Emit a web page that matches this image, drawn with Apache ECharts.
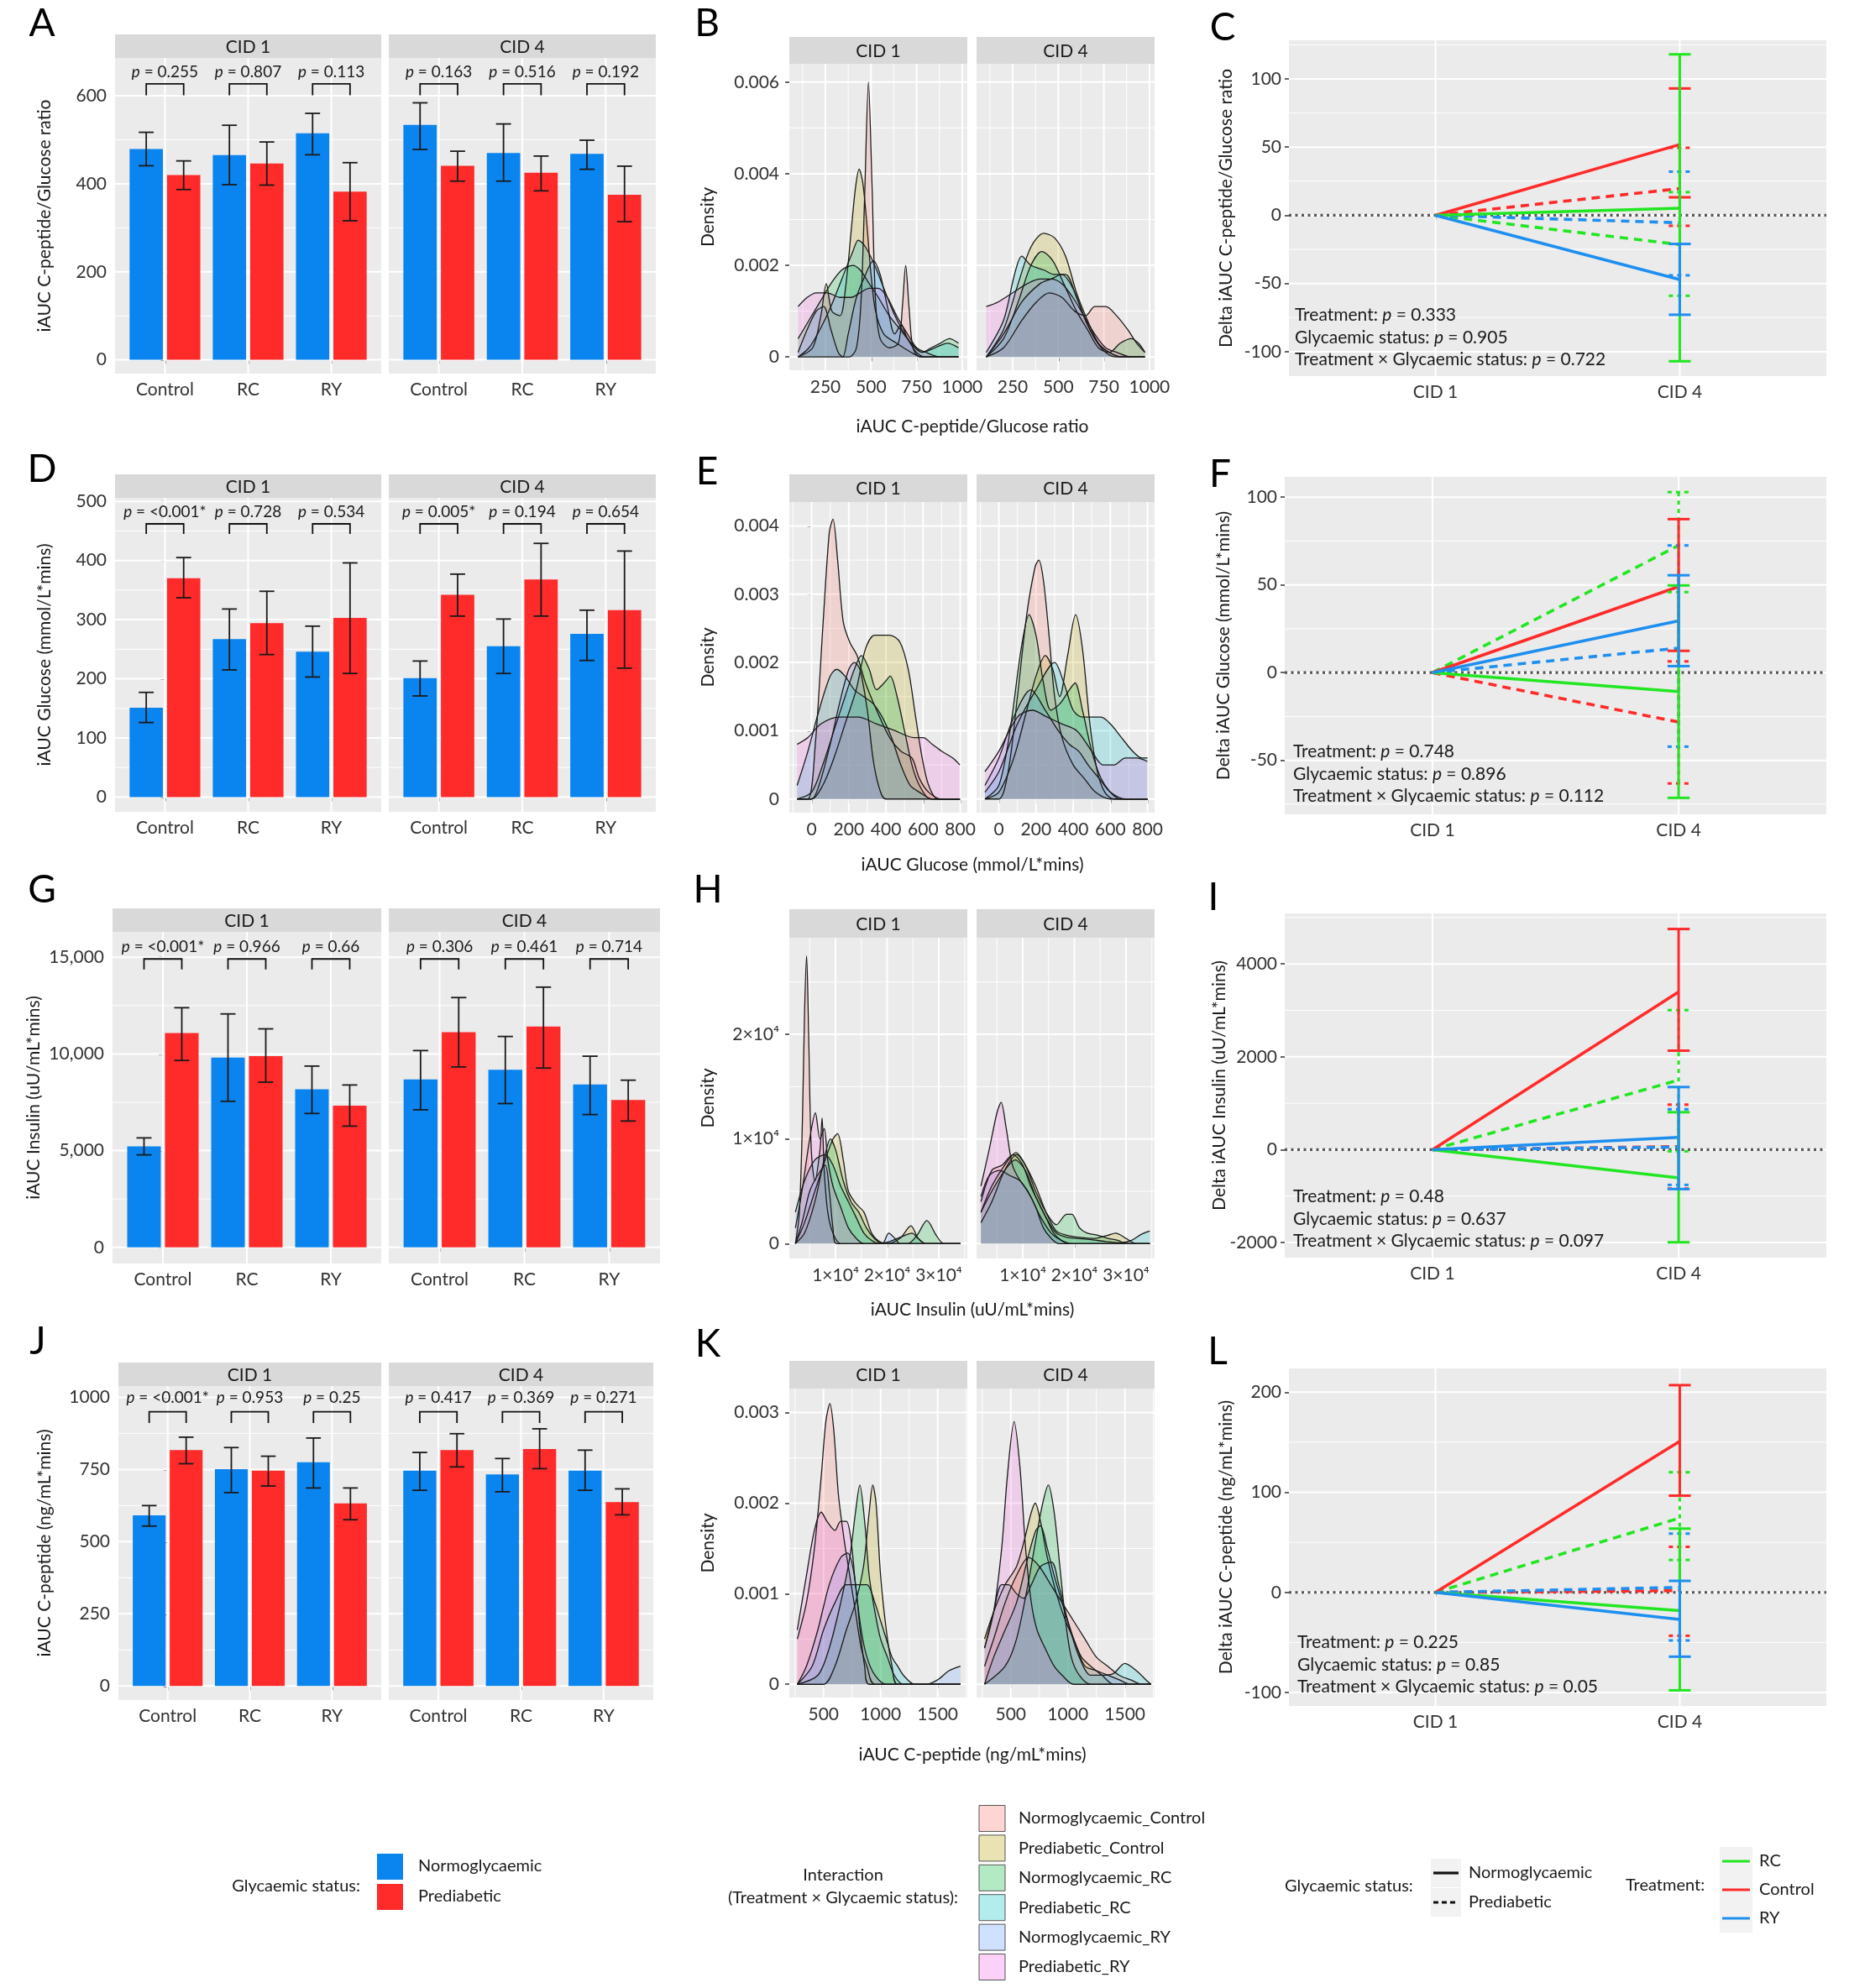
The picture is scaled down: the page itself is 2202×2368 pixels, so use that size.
<!DOCTYPE html>
<html>
<head>
<meta charset="utf-8">
<title>iAUC figure</title>
<script src="https://cdn.jsdelivr.net/npm/echarts@6.0.0/dist/echarts.min.js"></script>
<style>
html,body{margin:0;padding:0;background:#ffffff;}
#chart{width:2202px;height:2368px;}
</style>
</head>
<body>
<div id="chart"></div>
<script>
// ======================= DATA =======================
const treatments = ['Control', 'RC', 'RY'];
const facets = ['CID 1', 'CID 4'];
const statusNames = ['Normoglycaemic', 'Prediabetic'];
const interactionNames = ['Normoglycaemic_Control','Prediabetic_Control','Normoglycaemic_RC','Prediabetic_RC','Normoglycaemic_RY','Prediabetic_RY'];

// ---- Bar panels: [mean, lower, upper] for Control, RC, RY ----
const A_CID1_Normo = [[479,441,517],[465,398,533],[515,466,560]];
const A_CID1_Pred  = [[420,387,452],[446,397,495],[382,316,448]];
const A_CID4_Normo = [[534,478,584],[470,406,536],[468,433,499]];
const A_CID4_Pred  = [[441,406,474],[425,384,463],[375,314,440]];
const A_pCID1 = ['0.255','0.807','0.113'];
const A_pCID4 = ['0.163','0.516','0.192'];

const D_CID1_Normo = [[151,126,177],[267,215,318],[246,203,289]];
const D_CID1_Pred  = [[370,337,405],[294,241,348],[303,209,396]];
const D_CID4_Normo = [[201,171,230],[255,209,301],[276,231,316]];
const D_CID4_Pred  = [[342,306,377],[368,306,429],[316,218,416]];
const D_pCID1 = ['<0.001*','0.728','0.534'];
const D_pCID4 = ['0.005*','0.194','0.654'];

const G_CID1_Normo = [[5223,4781,5660],[9811,7552,12070],[8178,6924,9373]];
const G_CID1_Pred  = [[11079,9665,12391],[9884,8542,11298],[7332,6268,8396]];
const G_CID4_Normo = [[8688,7114,10175],[9184,7435,10904],[8425,6866,9884]];
const G_CID4_Pred  = [[11123,9329,12916],[11414,9271,13455],[7624,6531,8644]];
const G_pCID1 = ['<0.001*','0.966','0.66'];
const G_pCID4 = ['0.306','0.461','0.714'];

const J_CID1_Normo = [[591,554,625],[751,670,826],[775,686,859]];
const J_CID1_Pred  = [[817,770,862],[746,693,796],[633,576,686]];
const J_CID4_Normo = [[746,678,809],[733,673,788],[746,678,817]];
const J_CID4_Pred  = [[817,759,874],[821,753,891],[637,593,683]];
const J_pCID1 = ['<0.001*','0.953','0.25'];
const J_pCID4 = ['0.417','0.369','0.271'];

// ---- Delta panels: CID4 change [mean, lower, upper] for Control, RC, RY ----
const C_Normo = [[51.9,13.2,93],[5.2,-107,118],[-47.1,-72.9,-21]];
const C_Pred  = [[19.6,-7.7,49.5],[-21.5,-59,17],[-5.5,-44,32]];
const C_pvals = ['0.333','0.905','0.722'];
const F_Normo = [[49,12.4,87.5],[-10.8,-71.4,49.7],[29.5,3.7,55.5]];
const F_Pred  = [[-28.2,-63.2,6.4],[72.5,45.9,102.9],[14,-42.2,72.5]];
const F_pvals = ['0.748','0.896','0.112'];
const I_Normo = [[3398,2133,4753],[-608,-1994,807],[265,-849,1349]];
const I_Pred  = [[66,-838,970],[1500,-36,3006],[54,-759,870]];
const I_pvals = ['0.48','0.637','0.097'];
const L_Normo = [[151,96.6,207],[-18.2,-97.8,63.7],[-27.1,-64.2,11.5]];
const L_Pred  = [[1.7,-43.3,45.5],[74.3,32.4,120],[5,-48,58.7]];
const L_pvals = ['0.225','0.85','0.05'];

// ---- Tick values ----
const A_yTicks = [0,200,400,600];
const D_yTicks = [0,100,200,300,400,500];
const G_yTicks = [0,5000,10000,15000];
const J_yTicks = [0,250,500,750,1000];
const B_xTicks = [250,500,750,1000];
const B_yTicks = [0,0.002,0.004,0.006];
const E_xTicks = [0,200,400,600,800];
const E_yTicks = [0,0.001,0.002,0.003,0.004];
const H_xTicks = [10000,20000,30000];
const H_xTickLabels = ['1×10⁴','2×10⁴','3×10⁴'];
const H_yTicks = [0,0.0001,0.0002];
const H_yTickLabels = ['0','1×10⁴','2×10⁴'];
const K_xTicks = [500,1000,1500];
const K_yTicks = [0,0.001,0.002,0.003];
const C_yTicks = [-100,-50,0,50,100];
const F_yTicks = [-50,0,50,100];
const I_yTicks = [-2000,0,2000,4000];
const L_yTicks = [-100,0,100,200];

// ---- Density curves [x, density] ----
// B: iAUC C-peptide/Glucose ratio
const B1_NC  = [[100,0],[380,0],[420,0.0002],[445,0.0012],[465,0.0035],[486,0.006],[505,0.0038],[525,0.0012],[550,0.0004],[600,0.0002],[650,0.0003],[672,0.0011],[690,0.002],[708,0.0011],[730,0.0002],[770,0],[980,0]];
const B1_PC  = [[100,0],[180,0.0002],[225,0.0009],[255,0.0016],[285,0.001],[330,0.0009],[360,0.0015],[390,0.0027],[415,0.0037],[435,0.0041],[455,0.0038],[475,0.003],[500,0.0018],[525,0.001],[570,0.0005],[640,0.0003],[720,0.0001],[780,0],[980,0]];
const B1_NRC = [[100,0.0004],[160,0.0008],[220,0.0012],[280,0.0016],[340,0.0019],[400,0.002],[440,0.0019],[490,0.0016],[540,0.0013],[600,0.0009],[660,0.0006],[720,0.0003],[780,0.0001],[830,0.0002],[880,0.0003],[930,0.0004],[980,0.0003]];
const B1_PRC = [[100,0],[160,0.0002],[220,0.0006],[280,0.0011],[340,0.0017],[400,0.0023],[430,0.00255],[470,0.0024],[520,0.002],[570,0.0015],[620,0.001],[670,0.0006],[720,0.0003],[780,0.0001],[850,0.0002],[920,0.0003],[980,0.0002]];
const B1_NRY = [[100,0.0001],[150,0.0006],[200,0.001],[240,0.0011],[280,0.0006],[320,0.0001],[345,0],[375,0.0005],[420,0.0013],[470,0.0018],[512,0.0021],[550,0.0018],[590,0.0011],[630,0.0005],[665,0.0007],[700,0.0004],[750,0.0001],[800,0],[980,0]];
const B1_PRY = [[100,0.0011],[150,0.0013],[200,0.0014],[260,0.0014],[330,0.0013],[390,0.0013],[440,0.0014],[490,0.0015],[540,0.0015],[590,0.0013],[640,0.0009],[700,0.0005],[750,0.0002],[800,0.0001],[880,0],[980,0]];
const B4_NC  = [[105,0],[200,0.0002],[300,0.0008],[380,0.0012],[450,0.0014],[520,0.0013],[590,0.001],[650,0.0009],[700,0.0011],[760,0.0011],[820,0.0009],[880,0.0006],[930,0.0003],[975,0.0001]];
const B4_PC  = [[105,0],[200,0.0006],[280,0.0016],[350,0.0024],[420,0.0027],[480,0.0026],[540,0.0022],[600,0.0014],[660,0.0008],[720,0.0003],[780,0.0001],[850,0],[975,0]];
const B4_NRC = [[105,0],[200,0.0004],[280,0.0012],[350,0.002],[410,0.0023],[470,0.0021],[530,0.0016],[600,0.001],[660,0.0006],[720,0.0002],[780,0.0001],[840,0.0003],[900,0.0004],[940,0.0003],[975,0.0001]];
const B4_PRC = [[105,0.0001],[200,0.0008],[260,0.0018],[300,0.0022],[350,0.002],[420,0.0019],[480,0.0018],[540,0.0018],[600,0.0013],[660,0.0007],[720,0.0003],[780,0.0001],[850,0],[975,0]];
const B4_NRY = [[105,0],[200,0.0005],[300,0.0012],[400,0.0016],[460,0.0017],[520,0.0018],[580,0.0015],[640,0.0009],[700,0.0004],[760,0.0001],[820,0],[975,0]];
const B4_PRY = [[105,0.0011],[170,0.0012],[250,0.0014],[330,0.0016],[400,0.0017],[460,0.0017],[520,0.0016],[580,0.0013],[640,0.0009],[700,0.0005],[760,0.0002],[820,0.0001],[900,0],[975,0]];
// E: iAUC Glucose
const E1_NC  = [[-78,0],[-20,0],[20,0.0008],[60,0.0025],[95,0.0039],[115,0.0041],[140,0.0035],[170,0.0026],[205,0.0023],[245,0.0021],[290,0.0017],[350,0.0013],[420,0.0009],[480,0.0007],[540,0.0006],[580,0.0003],[630,0.0001],[700,0],[798,0]];
const E1_PC  = [[-78,0],[0,0],[60,0.0002],[120,0.0006],[180,0.0011],[240,0.0016],[290,0.0022],[340,0.0024],[420,0.0024],[475,0.0023],[520,0.0019],[560,0.0012],[595,0.0006],[630,0.0002],[680,0],[798,0]];
const E1_NRC = [[-78,0],[0,0.0001],[60,0.0005],[120,0.001],[180,0.0015],[230,0.0019],[268,0.0021],[310,0.0019],[350,0.0016],[390,0.0017],[423,0.0018],[460,0.0015],[500,0.001],[540,0.0005],[580,0.0002],[640,0],[798,0]];
const E1_PRC = [[-78,0.0002],[-20,0.0007],[40,0.0013],[100,0.0018],[135,0.0019],[180,0.0018],[230,0.0016],[280,0.0015],[330,0.0014],[380,0.0012],[430,0.0009],[480,0.0005],[530,0.0002],[580,0.0001],[650,0],[798,0]];
const E1_NRY = [[-78,0],[0,0],[40,0.0002],[100,0.0008],[150,0.0014],[200,0.0019],[230,0.002],[260,0.0019],[300,0.0013],[330,0.0006],[360,0.0002],[400,0],[798,0]];
const E1_PRY = [[-78,0.0008],[-20,0.0009],[50,0.0011],[150,0.0012],[250,0.0012],[350,0.0011],[450,0.001],[550,0.0009],[600,0.0009],[650,0.0008],[700,0.0007],[760,0.0006],[798,0.0005]];
const E4_NC  = [[-75,0],[0,0],[50,0.0004],[100,0.0015],[150,0.0027],[195,0.0034],[215,0.0035],[240,0.0032],[270,0.0024],[300,0.0015],[340,0.0009],[400,0.0005],[460,0.0003],[520,0.0001],[600,0],[800,0]];
const E4_PC  = [[-75,0],[0,0.0001],[80,0.0006],[150,0.0013],[200,0.0018],[250,0.0021],[290,0.0019],[327,0.0015],[370,0.0021],[413,0.0027],[450,0.0022],[490,0.0011],[530,0.0004],[570,0.0001],[620,0],[800,0]];
const E4_NRC = [[-75,0],[0,0.0002],[60,0.001],[120,0.0022],[163,0.0027],[200,0.0024],[240,0.0017],[280,0.0013],[330,0.0014],[380,0.0016],[410,0.0017],[450,0.0013],[500,0.0007],[550,0.0003],[600,0.0001],[650,0],[800,0]];
const E4_PRC = [[-75,0.0001],[0,0.0004],[100,0.0011],[200,0.0016],[300,0.002],[350,0.0017],[400,0.0013],[450,0.0012],[500,0.0012],[550,0.0012],[600,0.0011],[660,0.0009],[720,0.0007],[770,0.0006],[800,0.0006]];
const E4_NRY = [[-75,0.0002],[0,0.0006],[80,0.0012],[172,0.0016],[250,0.0013],[320,0.001],[380,0.0008],[430,0.0007],[480,0.0005],[540,0.0003],[600,0.0001],[680,0],[800,0]];
const E4_PRY = [[-75,0.0004],[0,0.0007],[100,0.0012],[180,0.0013],[260,0.0012],[340,0.0011],[420,0.001],[500,0.0007],[560,0.0005],[620,0.0005],[680,0.0006],[740,0.0006],[800,0.00055]];
// H: iAUC Insulin
const H1_NC  = [[2230,0],[3000,0.3e-4],[3600,1.2e-4],[4000,2.2e-4],[4400,2.75e-4],[4800,2.0e-4],[5300,0.9e-4],[6000,0.6e-4],[7000,0.9e-4],[7400,1.2e-4],[7800,0.7e-4],[8500,0.3e-4],[9500,0.1e-4],[11000,0],[34200,0]];
const H1_PC  = [[2230,0],[4000,0.2e-4],[6000,0.5e-4],[8000,0.8e-4],[9500,1.0e-4],[10400,1.05e-4],[11500,0.8e-4],[12500,0.5e-4],[14000,0.38e-4],[15500,0.3e-4],[17000,0.1e-4],[18500,0.02e-4],[20000,0],[22500,0.05e-4],[24600,0.17e-4],[26000,0.05e-4],[27500,0],[34200,0]];
const H1_NRC = [[2230,0],[4000,0.1e-4],[6000,0.4e-4],[8000,0.85e-4],[9000,1.0e-4],[10000,0.9e-4],[11500,0.6e-4],[13000,0.4e-4],[14500,0.3e-4],[16000,0.15e-4],[17500,0.05e-4],[19000,0],[24000,0],[25800,0.08e-4],[27700,0.22e-4],[29500,0.08e-4],[31000,0],[34200,0]];
const H1_PRC = [[2230,0.3e-4],[4000,0.6e-4],[6000,0.8e-4],[8000,0.85e-4],[9500,0.75e-4],[11000,0.55e-4],[12500,0.4e-4],[14000,0.25e-4],[15500,0.1e-4],[17000,0.03e-4],[18500,0],[20500,0.02e-4],[22000,0.05e-4],[23500,0.08e-4],[24800,0.1e-4],[26000,0.05e-4],[27500,0],[34200,0]];
const H1_NRY = [[2230,0],[3500,0.2e-4],[5000,0.5e-4],[6500,0.65e-4],[8000,0.75e-4],[8800,0.5e-4],[9500,0.15e-4],[10200,0],[19000,0],[20300,0.1e-4],[21500,0.05e-4],[22500,0],[34200,0]];
const H1_PRY = [[2230,0.15e-4],[3500,0.5e-4],[5000,1.0e-4],[6100,1.25e-4],[7000,1.0e-4],[7800,1.1e-4],[8500,0.8e-4],[9500,0.55e-4],[11000,0.35e-4],[12500,0.15e-4],[14000,0.05e-4],[15500,0],[34200,0]];
const H4_NC  = [[1900,0.4e-4],[4000,0.7e-4],[6000,0.75e-4],[8100,0.85e-4],[10000,0.75e-4],[11500,0.55e-4],[13000,0.4e-4],[14500,0.25e-4],[16000,0.1e-4],[17500,0.03e-4],[19000,0],[34600,0]];
const H4_PC  = [[1900,0.3e-4],[4000,0.55e-4],[6500,0.75e-4],[8700,0.87e-4],[10500,0.75e-4],[12500,0.55e-4],[14500,0.3e-4],[16500,0.12e-4],[18500,0.08e-4],[21000,0.06e-4],[24000,0.05e-4],[26500,0.08e-4],[28000,0.1e-4],[30000,0.05e-4],[32000,0],[34600,0]];
const H4_NRC = [[1900,0.2e-4],[4000,0.4e-4],[6500,0.7e-4],[8800,0.85e-4],[10500,0.75e-4],[12500,0.5e-4],[14500,0.3e-4],[16500,0.18e-4],[18500,0.28e-4],[19500,0.28e-4],[21000,0.15e-4],[22500,0.1e-4],[24500,0.08e-4],[26500,0.05e-4],[28500,0.03e-4],[30000,0],[34600,0]];
const H4_PRC = [[1900,0.3e-4],[4000,0.5e-4],[6500,0.7e-4],[8500,0.8e-4],[10500,0.7e-4],[12500,0.45e-4],[14500,0.25e-4],[16500,0.1e-4],[18500,0.06e-4],[20500,0.05e-4],[23000,0.04e-4],[26000,0.02e-4],[29000,0.01e-4],[31000,0.03e-4],[33000,0.09e-4],[34600,0.12e-4]];
const H4_NRY = [[1900,0.45e-4],[3500,0.65e-4],[5500,0.7e-4],[7500,0.65e-4],[9500,0.6e-4],[11500,0.45e-4],[13500,0.25e-4],[15500,0.1e-4],[17500,0.03e-4],[19500,0],[34600,0]];
const H4_PRY = [[1900,0.55e-4],[3500,0.9e-4],[5000,1.25e-4],[5800,1.35e-4],[6800,1.1e-4],[8000,0.75e-4],[9500,0.6e-4],[11000,0.5e-4],[12500,0.35e-4],[14000,0.15e-4],[15500,0.05e-4],[17000,0],[34600,0]];
// K: iAUC C-peptide
const K1_NC  = [[270,0.0005],[350,0.0009],[420,0.0015],[480,0.0023],[520,0.0029],[556,0.0031],[590,0.0028],[630,0.0021],[680,0.0016],[730,0.0012],[780,0.0008],[830,0.0004],[880,0.0002],[950,0],[1700,0]];
const K1_PC  = [[270,0],[500,0],[600,0.0002],[700,0.0006],[780,0.0009],[850,0.0013],[900,0.0019],[931,0.0022],[960,0.002],[1000,0.0012],[1050,0.0006],[1100,0.0002],[1150,0],[1700,0]];
const K1_NRC = [[270,0],[450,0.0001],[550,0.0004],[650,0.0009],[730,0.0014],[780,0.0019],[818,0.0022],[860,0.0018],[900,0.0012],[950,0.0008],[1000,0.0005],[1060,0.0003],[1120,0.0001],[1200,0],[1700,0]];
const K1_PRC = [[270,0],[400,0.0002],[500,0.0006],[600,0.0009],[700,0.0011],[800,0.0011],[880,0.0011],[950,0.0009],[1000,0.0007],[1050,0.0005],[1100,0.0003],[1150,0.0002],[1200,0.0001],[1300,0],[1700,0]];
const K1_NRY = [[270,0],[350,0.0002],[450,0.0006],[550,0.0011],[650,0.0014],[711,0.00145],[770,0.0012],[820,0.0006],[860,0.0002],[900,0],[1400,0],[1500,0.00005],[1600,0.00015],[1700,0.0002]];
const K1_PRY = [[270,0.0006],[350,0.0012],[420,0.0017],[480,0.0019],[530,0.0018],[600,0.0017],[650,0.0018],[700,0.0018],[740,0.0016],[780,0.0011],[830,0.0006],[880,0.0003],[950,0.0001],[1050,0],[1700,0]];
const K4_NC  = [[270,0.0002],[350,0.0005],[450,0.0009],[550,0.0012],[657,0.0014],[750,0.0013],[850,0.0011],[950,0.0009],[1050,0.0007],[1150,0.0005],[1250,0.0003],[1350,0.0002],[1450,0.0001],[1550,0.00005],[1650,0],[1730,0]];
const K4_PC  = [[270,0.0005],[350,0.0008],[450,0.0011],[550,0.0013],[620,0.0016],[680,0.0019],[714,0.002],[760,0.0018],[820,0.0014],[900,0.001],[980,0.0007],[1050,0.0005],[1120,0.0003],[1200,0.0002],[1300,0.0001],[1400,0],[1730,0]];
const K4_NRC = [[270,0],[450,0.0002],[550,0.0005],[650,0.0011],[720,0.0016],[780,0.002],[829,0.0022],[880,0.0019],[930,0.0013],[980,0.0007],[1030,0.0003],[1100,0.0001],[1200,0],[1730,0]];
const K4_PRC = [[270,0],[350,0.0003],[450,0.0006],[550,0.0009],[650,0.0014],[720,0.0017],[760,0.00175],[820,0.0015],[880,0.0012],[950,0.0009],[1020,0.0006],[1100,0.0003],[1200,0.0001],[1300,0.0001],[1400,0.00012],[1500,0.00023],[1600,0.00015],[1700,0.00003],[1730,0]];
const K4_NRY = [[270,0.0004],[350,0.0008],[420,0.0011],[480,0.0011],[550,0.001],[614,0.00095],[680,0.0011],[760,0.0013],[857,0.00135],[920,0.0011],[1000,0.0007],[1080,0.0004],[1150,0.0002],[1250,0.00015],[1350,0.0001],[1450,0.00005],[1550,0],[1730,0]];
const K4_PRY = [[270,0.0004],[350,0.0008],[420,0.0015],[470,0.0023],[529,0.0029],[580,0.0024],[630,0.0015],[680,0.0009],[730,0.0006],[800,0.0004],[880,0.0002],[950,0.0001],[1050,0],[1730,0]];

// ======================= STYLE / LAYOUT =======================
const FONT = 'Lato, "Open Sans", "Liberation Sans", sans-serif';
const BAR_BLUE = '#0A84EE', BAR_RED = '#FF2A2A';
const TR_COLORS = ['#FF2A2A', '#22E622', '#1E8FEF']; // Control, RC, RY
const DENS_COLORS = ['#F8766D','#B79F00','#00BA38','#00BFC4','#619CFF','#F564E3'];
const PANEL_BG = '#EBEBEB', STRIP_BG = '#D9D9D9', TXT = '#1A1A1A', TICK_TXT = '#333333';

function rgba(hex, a) {
  const n = parseInt(hex.slice(1), 16);
  return 'rgba(' + ((n >> 16) & 255) + ',' + ((n >> 8) & 255) + ',' + (n & 255) + ',' + a + ')';
}
function blendWhite(hex, a) {
  const n = parseInt(hex.slice(1), 16);
  const c = [(n >> 16) & 255, (n >> 8) & 255, n & 255].map(v => Math.round(255 - a * (255 - v)));
  return 'rgb(' + c.join(',') + ')';
}
function minors(t, lo, hi) {
  const s = t[1] - t[0], out = [];
  let k = -Math.ceil((t[0] - lo) / s) - 1;
  for (;; k++) { const v = t[0] + (k + 0.5) * s; if (v > hi) break; if (v >= lo) out.push(v); }
  return out;
}
function labelFrom(ticks, labels) {
  return v => { for (let i = 0; i < ticks.length; i++) { if (Math.abs(ticks[i] - v) <= Math.abs(ticks[i]) * 1e-6 + 1e-12) return labels[i]; } return ''; };
}

const grids = [], xAxes = [], yAxes = [], series = [], graphics = [];

function text(x, y, str, o) {
  o = o || {};
  const size = o.size || 21;
  const st = {
    text: str, fill: o.color || TXT,
    font: (o.italic ? 'italic ' : '') + size + 'px ' + FONT,
    fontSize: size, fontFamily: FONT,
    align: o.align || 'center', verticalAlign: o.va || 'middle',
    textAlign: o.align || 'center', textVerticalAlign: o.va || 'middle'
  };
  if (o.rich) st.rich = o.rich;
  graphics.push({ type: 'text', x: x, y: y, rotation: o.rot || 0, silent: true, z: 100, style: st });
}
function rect(x, y, w, h, fill, stroke) {
  graphics.push({ type: 'rect', silent: true, z: 90, shape: { x: x, y: y, width: w, height: h },
    style: { fill: fill, stroke: stroke || null, lineWidth: stroke ? 1 : 0 } });
}
function strip(left, top, w, h, label) {
  rect(left, top, w, h, STRIP_BG);
  text(left + w / 2, top + h / 2 + 1, label, { size: 21 });
}
const italicRich = size => ({ i: { fontStyle: 'italic', fontSize: size, fontFamily: FONT, fill: TXT } });

function gridRender(p, api) {
  const a = api.coord([api.value(0), api.value(1)]);
  const b = api.coord([api.value(2), api.value(3)]);
  return { type: 'line', silent: true, shape: { x1: a[0], y1: a[1], x2: b[0], y2: b[1] },
    style: { stroke: '#FFFFFF', lineWidth: api.value(4) } };
}

function addGrid(o) {
  const gi = grids.length;
  grids.push({ left: o.left, top: o.top, width: o.width, height: o.height, show: true,
    backgroundColor: PANEL_BG, borderWidth: 0, containLabel: false });
  xAxes.push({ type: 'value', gridIndex: gi, min: o.xr[0], max: o.xr[1],
    axisLine: { show: false }, splitLine: { show: false },
    axisTick: { show: true, customValues: o.xTicks, length: 5, lineStyle: { color: '#333', width: 1.5 } },
    axisLabel: { show: true, customValues: o.xTicks, formatter: o.xFmt, margin: o.xMargin || 9,
      color: TICK_TXT, fontSize: 21, fontFamily: FONT } });
  yAxes.push({ type: 'value', gridIndex: gi, min: o.yr[0], max: o.yr[1],
    axisLine: { show: false }, splitLine: { show: false },
    axisTick: { show: o.yShow, customValues: o.yTicks, length: 5, lineStyle: { color: '#333', width: 1.5 } },
    axisLabel: { show: o.yShow, customValues: o.yTicks, formatter: o.yFmt, margin: o.yMargin || 10,
      color: TICK_TXT, fontSize: 21, fontFamily: FONT } });
  const lines = [];
  minors(o.yTicks, o.yr[0], o.yr[1]).forEach(v => lines.push([o.xr[0], v, o.xr[1], v, 1]));
  (o.xMinor || []).forEach(v => lines.push([v, o.yr[0], v, o.yr[1], 1]));
  o.yTicks.forEach(v => lines.push([o.xr[0], v, o.xr[1], v, 2]));
  o.xTicks.forEach(v => lines.push([v, o.yr[0], v, o.yr[1], 2]));
  series.push({ type: 'custom', xAxisIndex: gi, yAxisIndex: gi, silent: true, z: 1, data: lines, renderItem: gridRender });
  return gi;
}

function addBars(gi, vals, off, color, name) {
  series.push({ type: 'custom', name: name, xAxisIndex: gi, yAxisIndex: gi, z: 3, silent: true,
    data: vals.map((d, i) => [i, d[0]]),
    renderItem: (p, api) => {
      const i = api.value(0), v = api.value(1);
      const a = api.coord([i + off - 0.2, v]), b = api.coord([i + off + 0.2, 0]);
      return { type: 'rect', shape: { x: a[0], y: a[1], width: b[0] - a[0], height: b[1] - a[1] }, style: { fill: color } };
    } });
}

function addErr(gi, vals, xOf, half, color, width, dash, z) {
  series.push({ type: 'custom', xAxisIndex: gi, yAxisIndex: gi, z: z, silent: true,
    data: vals.map((d, i) => [xOf(i), d[1], d[2]]),
    renderItem: (p, api) => {
      const x = api.value(0), lo = api.value(1), hi = api.value(2);
      const t = api.coord([x, hi]), b = api.coord([x, lo]);
      const tl = api.coord([x - half, hi]), tr = api.coord([x + half, hi]);
      const bl = api.coord([x - half, lo]), br = api.coord([x + half, lo]);
      const st = { stroke: color, lineWidth: width };
      if (dash) st.lineDash = dash;
      return { type: 'group', children: [
        { type: 'line', shape: { x1: t[0], y1: t[1], x2: b[0], y2: b[1] }, style: st },
        { type: 'line', shape: { x1: tl[0], y1: tl[1], x2: tr[0], y2: tr[1] }, style: st },
        { type: 'line', shape: { x1: bl[0], y1: bl[1], x2: br[0], y2: br[1] }, style: st } ] };
    } });
}

function addBrackets(gi, pvals, lv) {
  series.push({ type: 'custom', xAxisIndex: gi, yAxisIndex: gi, z: 5, silent: true,
    data: pvals.map((pv, i) => [i, lv[0], lv[1], lv[2]]),
    renderItem: (p, api) => {
      const i = api.value(0), L = api.value(1), T = api.value(2), Y = api.value(3);
      const p1 = api.coord([i - 0.225, L]), p2 = api.coord([i - 0.225, T]);
      const p3 = api.coord([i + 0.225, T]), p4 = api.coord([i + 0.225, L]);
      const c = api.coord([i, Y]);
      return { type: 'group', children: [
        { type: 'polyline', shape: { points: [p1, p2, p3, p4] }, style: { stroke: '#111', lineWidth: 1.8, fill: null } },
        { type: 'text', x: c[0], y: c[1], style: { text: '{i|p} = ' + pvals[p.dataIndex], fill: TXT,
          font: '19px ' + FONT, fontSize: 19, fontFamily: FONT, align: 'center', verticalAlign: 'middle',
          textAlign: 'center', textVerticalAlign: 'middle', rich: italicRich(19) } } ] };
    } });
}

function barPanel(cfg, n1, p1, pv1, n4, p4, pv4) {
  const fac = [[cfg.l1, cfg.w1, n1, p1, pv1, true], [cfg.l4, cfg.w4, n4, p4, pv4, false]];
  fac.forEach((f, k) => {
    const gi = addGrid({ left: f[0], top: cfg.top, width: f[1], height: cfg.h,
      xr: [-0.6, 2.6], xTicks: [0, 1, 2], xFmt: v => treatments[Math.round(v)] || '', xMargin: 9,
      yr: cfg.yr, yTicks: cfg.yt, yFmt: cfg.yf, yShow: f[5], yMargin: 10, xMinor: [] });
    addBars(gi, f[2], -0.225, BAR_BLUE, statusNames[0]);
    addBars(gi, f[3], 0.225, BAR_RED, statusNames[1]);
    addErr(gi, f[2], i => i - 0.225, 0.09, '#1a1a1a', 1.8, null, 4);
    addErr(gi, f[3], i => i + 0.225, 0.09, '#1a1a1a', 1.8, null, 4);
    addBrackets(gi, f[4], cfg.lv);
    strip(f[0], cfg.stripTop, f[1], cfg.top - cfg.stripTop, facets[k]);
  });
  text(cfg.tx, cfg.top + cfg.h / 2, cfg.title, { rot: Math.PI / 2 });
  text(cfg.letter[0], cfg.letter[1], cfg.letter[2], { size: 46, color: '#000' });
}

function densPanel(cfg, c1, c4) {
  [[940, c1], [1163, c4]].forEach((f, k) => {
    const gi = addGrid({ left: f[0], top: cfg.top, width: 212, height: cfg.h,
      xr: cfg.xr, xTicks: cfg.xt, xFmt: cfg.xf, xMargin: 10, xMinor: minors(cfg.xt, cfg.xr[0], cfg.xr[1]),
      yr: cfg.yr, yTicks: cfg.yt, yFmt: cfg.yf, yShow: k === 0, yMargin: 12 });
    f[1].forEach((cv, j) => {
      series.push({ type: 'line', name: interactionNames[j], xAxisIndex: gi, yAxisIndex: gi, z: 2, silent: true,
        data: cv, smooth: 0.3, symbol: 'none', showSymbol: false, animation: false,
        lineStyle: { color: '#1a1a1a', width: 1.3 },
        areaStyle: { color: rgba(DENS_COLORS[j], 0.3), origin: 'auto' } });
    });
    strip(f[0], cfg.stripTop, 212, cfg.top - cfg.stripTop, facets[k]);
  });
  text(843, cfg.top + cfg.h / 2, 'Density', { rot: Math.PI / 2 });
  text(1158, cfg.titleY, cfg.title);
  text(cfg.letter[0], cfg.letter[1], cfg.letter[2], { size: 46, color: '#000' });
}

function deltaPanel(cfg, normo, pred, pv) {
  const gi = addGrid({ left: cfg.left, top: cfg.top, width: cfg.w, height: cfg.h,
    xr: [0.4, 2.6], xTicks: [1, 2], xFmt: v => facets[Math.round(v) - 1] || '', xMargin: 9, xMinor: [],
    yr: cfg.yr, yTicks: cfg.yt, yFmt: v => String(v), yShow: true, yMargin: 9 });
  series.push({ type: 'custom', xAxisIndex: gi, yAxisIndex: gi, z: 2, silent: true,
    data: [[cfg.yr[0], 0]],
    renderItem: (p, api) => {
      const a = api.coord([0.4, 0]), b = api.coord([2.6, 0]);
      return { type: 'line', shape: { x1: a[0], y1: a[1], x2: b[0], y2: b[1] },
        style: { stroke: '#555555', lineWidth: 3.2, lineDash: [3, 4.5] } };
    } });
  pred.forEach((d, t) => series.push({ type: 'line', xAxisIndex: gi, yAxisIndex: gi, z: 3, silent: true,
    data: [[1, 0], [2, d[0]]], symbol: 'none', showSymbol: false,
    lineStyle: { color: TR_COLORS[t], width: 3.6, type: [10, 7] } }));
  normo.forEach((d, t) => series.push({ type: 'line', xAxisIndex: gi, yAxisIndex: gi, z: 3, silent: true,
    data: [[1, 0], [2, d[0]]], symbol: 'none', showSymbol: false,
    lineStyle: { color: TR_COLORS[t], width: 3.6, type: 'solid' } }));
  pred.forEach((d, t) => addErr(gi, [d], () => 2, 0.045, TR_COLORS[t], 3, [5, 5], 4));
  normo.forEach((d, t) => addErr(gi, [d], () => 2, 0.045, TR_COLORS[t], 3, null, 4));
  const lab = ['Treatment: ', 'Glycaemic status: ', 'Treatment × Glycaemic status: '];
  lab.forEach((s, i) => text(cfg.ann[0], cfg.ann[1] + i * 26.8, s + '{i|p} = ' + pv[i],
    { align: 'left', size: 21, rich: italicRich(21) }));
  text(cfg.tx, cfg.top + cfg.h / 2, cfg.title, { rot: Math.PI / 2 });
  text(cfg.letter[0], cfg.letter[1], cfg.letter[2], { size: 46, color: '#000' });
}

// ======================= BUILD =======================
const num = v => String(v);
const dec3 = v => (v === 0 ? '0' : v.toFixed(3));

// Row 1
barPanel({ l1: 137, w1: 317, l4: 463, w4: 318, top: 69, h: 376, stripTop: 41,
  yr: [-31.3, 686], yt: A_yTicks, yf: num, lv: [601, 627, 653],
  title: 'iAUC C-peptide/Glucose ratio', tx: 53, letter: [50, 28, 'A'] },
  A_CID1_Normo, A_CID1_Pred, A_pCID1, A_CID4_Normo, A_CID4_Pred, A_pCID4);
densPanel({ top: 76, h: 365, stripTop: 44, xr: [52, 1028], xt: B_xTicks, xf: num,
  yr: [-0.00029, 0.0064], yt: B_yTicks, yf: dec3, title: 'iAUC C-peptide/Glucose ratio', titleY: 508, letter: [842, 28, 'B'] },
  [B1_NC, B1_PC, B1_NRC, B1_PRC, B1_NRY, B1_PRY], [B4_NC, B4_PC, B4_NRC, B4_PRC, B4_NRY, B4_PRY]);
deltaPanel({ left: 1535, w: 640, top: 48, h: 400, yr: [-117.9, 128.3], yt: C_yTicks,
  title: 'Delta iAUC C-peptide/Glucose ratio', tx: 1460, ann: [1542, 375], letter: [1456, 33, 'C'] },
  C_Normo, C_Pred, C_pvals);

// Row 2
barPanel({ l1: 137, w1: 317, l4: 463, w4: 318, top: 593, h: 374, stripTop: 565,
  yr: [-25, 506], yt: D_yTicks, yf: num, lv: [445, 462, 482],
  title: 'iAUC Glucose (mmol/L*mins)', tx: 53, letter: [50, 559, 'D'] },
  D_CID1_Normo, D_CID1_Pred, D_pCID1, D_CID4_Normo, D_CID4_Pred, D_pCID4);
densPanel({ top: 598, h: 370, stripTop: 565, xr: [-120, 838], xt: E_xTicks, xf: num,
  yr: [-0.0002, 0.00435], yt: E_yTicks, yf: dec3, title: 'iAUC Glucose (mmol/L*mins)', titleY: 1030, letter: [842, 562, 'E'] },
  [E1_NC, E1_PC, E1_NRC, E1_PRC, E1_NRY, E1_PRY], [E4_NC, E4_PC, E4_NRC, E4_PRC, E4_NRY, E4_PRY]);
deltaPanel({ left: 1530, w: 645, top: 568, h: 402, yr: [-80.8, 111.6], yt: F_yTicks,
  title: 'Delta iAUC Glucose (mmol/L*mins)', tx: 1457, ann: [1540, 895], letter: [1453, 565, 'F'] },
  F_Normo, F_Pred, F_pvals);

// Row 3
barPanel({ l1: 134, w1: 320, l4: 463, w4: 323, top: 1110, h: 395, stripTop: 1082,
  yr: [-835, 16313], yt: G_yTicks, yf: v => v.toLocaleString('en-US'), lv: [14373, 14912, 15539],
  title: 'iAUC Insulin (uU/mL*mins)', tx: 40, letter: [50, 1060, 'G'] },
  G_CID1_Normo, G_CID1_Pred, G_pCID1, G_CID4_Normo, G_CID4_Pred, G_pCID4);
densPanel({ top: 1117, h: 382, stripTop: 1083, xr: [1050, 35530], xt: H_xTicks, xf: labelFrom(H_xTicks, H_xTickLabels),
  yr: [-0.0000142, 0.0002923], yt: H_yTicks, yf: labelFrom(H_yTicks, H_yTickLabels), title: 'iAUC Insulin (uU/mL*mins)', titleY: 1560, letter: [843, 1060, 'H'] },
  [H1_NC, H1_PC, H1_NRC, H1_PRC, H1_NRY, H1_PRY], [H4_NC, H4_PC, H4_NRC, H4_PRC, H4_NRY, H4_PRY]);
deltaPanel({ left: 1530, w: 645, top: 1088, h: 410, yr: [-2325, 5089], yt: I_yTicks,
  title: 'Delta iAUC Insulin (uU/mL*mins)', tx: 1452, ann: [1540, 1425], letter: [1445, 1069, 'I'] },
  I_Normo, I_Pred, I_pvals);

// Row 4
barPanel({ l1: 141, w1: 313, l4: 463, w4: 315, top: 1651, h: 374, stripTop: 1623,
  yr: [-48.5, 1039], yt: J_yTicks, yf: num, lv: [911, 950, 998],
  title: 'iAUC C-peptide (ng/mL*mins)', tx: 53, letter: [45, 1598, 'J'] },
  J_CID1_Normo, J_CID1_Pred, J_pCID1, J_CID4_Normo, J_CID4_Pred, J_pCID4);
densPanel({ top: 1654, h: 368, stripTop: 1621, xr: [200, 1760], xt: K_xTicks, xf: num,
  yr: [-0.000146, 0.003265], yt: K_yTicks, yf: dec3, title: 'iAUC C-peptide (ng/mL*mins)', titleY: 2090, letter: [843, 1601, 'K'] },
  [K1_NC, K1_PC, K1_NRC, K1_PRC, K1_NRY, K1_PRY], [K4_NC, K4_PC, K4_NRC, K4_PRC, K4_NRY, K4_PRY]);
deltaPanel({ left: 1535, w: 640, top: 1630, h: 402, yr: [-113.4, 223.7], yt: L_yTicks,
  title: 'Delta iAUC C-peptide (ng/mL*mins)', tx: 1460, ann: [1545, 1956], letter: [1450, 1610, 'L'] },
  L_Normo, L_Pred, L_pvals);

// ======================= LEGENDS =======================
// Glycaemic status (fill)
text(429, 2247, 'Glycaemic status:', { align: 'right', size: 20 });
[BAR_BLUE, BAR_RED].forEach((c, i) => {
  rect(449, 2208 + i * 36, 31, 31, c);
  text(498, 2223 + i * 36, statusNames[i], { align: 'left', size: 20 });
});
// Interaction (density fill)
text(1004, 2234, 'Interaction', { size: 20 });
text(1004, 2261, '(Treatment × Glycaemic status):', { size: 20 });
interactionNames.forEach((nm, i) => {
  const cy = 2166 + i * 35.4;
  rect(1166, cy - 15.5, 31, 31, blendWhite(DENS_COLORS[i], 0.3), '#555');
  text(1213, cy, nm, { align: 'left', size: 20 });
});
// Glycaemic status (linetype)
text(1530, 2247, 'Glycaemic status:', { align: 'left', size: 20 });
['solid', 'dashed'].forEach((t, i) => {
  const cy = 2231 + i * 35;
  rect(1704, cy - 17, 36, 34, '#F2F2F2');
  graphics.push({ type: 'line', silent: true, z: 95, shape: { x1: 1707, y1: cy, x2: 1737, y2: cy },
    style: { stroke: '#111', lineWidth: 3.2, lineDash: t === 'dashed' ? [6, 4] : null } });
  text(1749, cy, statusNames[i], { align: 'left', size: 20 });
});
// Treatment (colour)
text(1936, 2246, 'Treatment:', { align: 'left', size: 20 });
[1, 0, 2].forEach((t, i) => {
  const cy = 2217 + i * 34;
  rect(2048, cy - 17, 39, 34, '#F2F2F2');
  graphics.push({ type: 'line', silent: true, z: 95, shape: { x1: 2051, y1: cy, x2: 2084, y2: cy },
    style: { stroke: TR_COLORS[t], lineWidth: 3.2 } });
  text(2095, cy, treatments[t], { align: 'left', size: 20 });
});

// ======================= RENDER =======================
const chart = echarts.init(document.getElementById('chart'), null, { renderer: 'canvas', width: 2202, height: 2368 });
chart.setOption({
  animation: false,
  backgroundColor: '#FFFFFF',
  grid: grids, xAxis: xAxes, yAxis: yAxes,
  series: series,
  graphic: graphics
});
</script>
</body>
</html>
